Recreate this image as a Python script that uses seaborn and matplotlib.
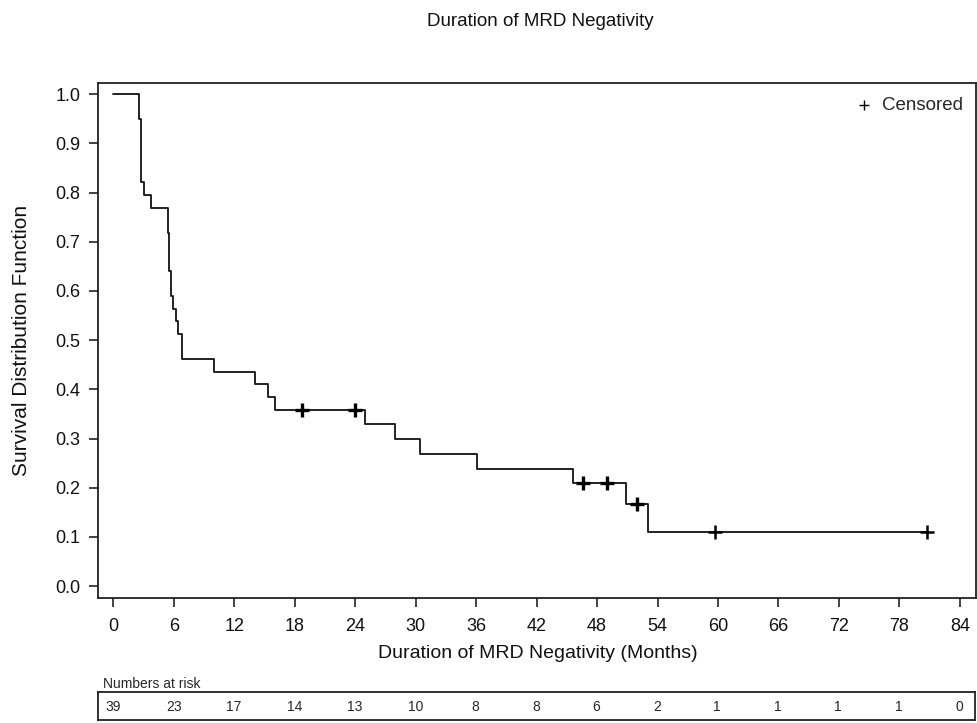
import matplotlib
matplotlib.use("Agg")
import matplotlib.pyplot as plt
import seaborn as sns
import pandas as pd
import numpy as np

# ---- data ----
step_times = [0.0, 2.55, 2.7, 3.05, 3.75, 5.4, 5.55, 5.75, 5.95, 6.2, 6.45, 6.8,
              10.0, 14.05, 15.35, 16.05, 24.95, 27.95, 30.45, 36.05, 45.65, 50.85, 53.1]
step_surv = [1.0, 0.949, 0.821, 0.795, 0.769, 0.718, 0.641, 0.590, 0.564, 0.538, 0.513, 0.462,
             0.436, 0.410, 0.385, 0.359, 0.329, 0.299, 0.269, 0.239, 0.209, 0.167, 0.111]
last_time = 80.7

cens_times = [18.7, 24.0, 46.6, 49.0, 52.0, 59.7, 80.7]
cens_surv = [0.359, 0.359, 0.209, 0.209, 0.167, 0.111, 0.111]
cens_bold = [True, True, True, True, True, False, False]

risk_times = [0, 6, 12, 18, 24, 30, 36, 42, 48, 54, 60, 66, 72, 78, 84]
risk_counts = [39, 23, 17, 14, 13, 10, 8, 8, 6, 2, 1, 1, 1, 1, 0]

x_ticks = list(range(0, 85, 6))
y_ticks = [round(0.1 * i, 1) for i in range(11)]

title = "Duration of MRD Negativity"
x_label = "Duration of MRD Negativity (Months)"
y_label = "Survival Distribution Function"

# ---- styling ----
sns.set_theme(style="white")
plt.rcParams["font.family"] = ["Liberation Sans", "DejaVu Sans"]

W, H = 977, 723
fig = plt.figure(figsize=(W / 100, H / 100), dpi=100)
ax_left, ax_right, ax_top, ax_bot = 97.5, 976.0, 83.3, 598.0
ax = fig.add_axes([ax_left / W, 1 - ax_bot / H, (ax_right - ax_left) / W, (ax_bot - ax_top) / H])

curve = pd.DataFrame({"t": step_times + [last_time], "s": step_surv + [step_surv[-1]]})
sns.lineplot(data=curve, x="t", y="s", drawstyle="steps-post", estimator=None,
             color="#111111", linewidth=1.3, ax=ax)

cens = pd.DataFrame({"t": cens_times, "s": cens_surv, "bold": cens_bold})
bold = cens[cens["bold"]]
thin = cens[~cens["bold"]]
sns.scatterplot(data=bold, x="t", y="s", marker="+", s=110, linewidth=2.4,
                color="black", ax=ax, label="Censored", zorder=3)
sns.scatterplot(data=thin, x="t", y="s", marker="+", s=110, linewidth=1.8,
                color="black", ax=ax, zorder=3)

ax.set_xlim(-1.57, 85.6)
ax.set_ylim(-0.024, 1.022)
ax.set_xticks(x_ticks)
ax.set_yticks(y_ticks)
ax.set_yticklabels([f"{v:.1f}" for v in y_ticks])
ax.tick_params(axis="x", pad=8)
ax.tick_params(axis="y", pad=6)
ax.tick_params(axis="both", direction="out", length=6.5, width=1.2, color="#222222",
               labelsize=13, bottom=True, left=True, labelcolor="#111111")
for sp in ax.spines.values():
    sp.set_visible(True)
    sp.set_color("#222222")
    sp.set_linewidth(1.3)
ax.set_xlabel(x_label, fontsize=14, va="center", color="#111111")
ax.set_ylabel(y_label, fontsize=15, va="center", color="#111111")
ax_h = ax_bot - ax_top
ax_w = ax_right - ax_left
ax.xaxis.set_label_coords(0.5 + (538 - (ax_left + ax_right) / 2) / ax_w, -(653 - ax_bot) / ax_h)
ax.yaxis.set_label_coords(-(ax_left - 22) / ax_w, 0.5)

leg = ax.legend(loc="upper right", frameon=False, fontsize=13.5, handletextpad=0.45,
                handlelength=1.0, markerscale=0.7, borderaxespad=0.3)
for h in leg.legend_handles:
    h.set_linewidth(1.0)

fig.text(540 / W, 1 - 22 / H, title, ha="center", va="center", fontsize=13.5, color="#111111")

# numbers at risk table
tax = fig.add_axes([ax_left / W, 1 - 720 / H, (975 - ax_left) / W, (720 - 692) / H])
tax.set_xlim(ax.get_xlim())
tax.set_ylim(0, 1)
tax.set_xticks([])
tax.set_yticks([])
for sp in tax.spines.values():
    sp.set_visible(True)
    sp.set_color("#222222")
    sp.set_linewidth(1.3)
for t, n in zip(risk_times, risk_counts):
    tax.text(t, 0.45, str(n), ha="center", va="center", fontsize=10)
fig.text(103 / W, 1 - 684 / H, "Numbers at risk", ha="left", va="center", fontsize=10)

fig.savefig("out.png", dpi=100)
